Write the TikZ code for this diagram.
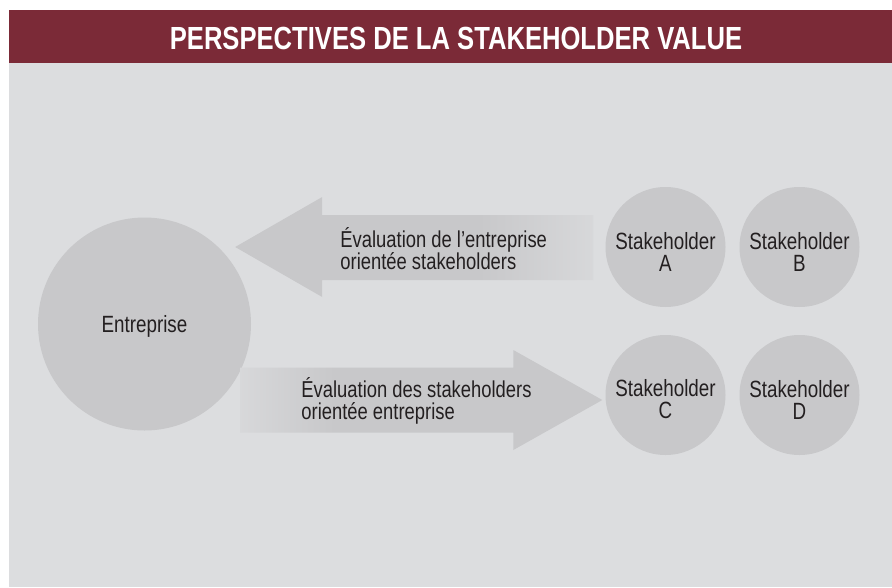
\documentclass[tikz,border=0pt]{standalone}
\usepackage{fontspec}
\setmainfont{Liberation Sans}[FakeStretch=0.8]
\usetikzlibrary{backgrounds,calc}

\definecolor{titlered}{HTML}{7B2A37}
\definecolor{panelgray}{HTML}{DCDDDF}
\definecolor{discgray}{HTML}{C8C8CA}
\definecolor{inkgray}{HTML}{231F20}
\colorlet{fadegray}{panelgray!75!discgray}
% shadings for the two big arrows (the path box is 25bp--75bp)
\pgfdeclarehorizontalshading{fadeeast}{100bp}{color(0bp)=(discgray); color(59bp)=(discgray); color(75bp)=(fadegray); color(100bp)=(fadegray)}
\pgfdeclarehorizontalshading{fadewest}{100bp}{color(0bp)=(fadegray); color(25bp)=(fadegray); color(38bp)=(discgray); color(100bp)=(discgray)}

\begin{document}
\begin{tikzpicture}[x=1pt,y=-1pt,inner sep=0pt]
    % `disc' is used for the entreprise and the stakeholders.
    % `caption' is used for the texts on the arrows.
    % `banner' is used for the title.
    \tikzstyle{disc} = [circle,fill=discgray,text=inkgray,align=center,font=\fontsize{23.5}{22}\selectfont]
    \tikzstyle{caption} = [text=inkgray,align=left,anchor=base west,font=\fontsize{23}{22}\selectfont]
    \tikzstyle{banner} = [text=white,anchor=base,font=\bfseries\fontsize{32}{32}\selectfont]
    %
    \useasboundingbox (0,0) rectangle (892,587);
    \node[banner] (title) at (456,49) {PERSPECTIVES DE LA STAKEHOLDER VALUE};
    %
    \node[disc,minimum size=213pt,text height=21pt] (entreprise) at (144.5,324) {Entreprise};
    \node[disc,minimum size=120pt,text height=48pt] (sA) at (665.5,247) {Stakeholder\\A};
    \node[disc,minimum size=120pt,text height=48pt] (sB) at (799.5,247) {Stakeholder\\B};
    \node[disc,minimum size=120pt,text height=48pt] (sC) at (665.5,395) {Stakeholder\\C};
    \node[disc,minimum size=120pt,text height=48pt] (sD) at (799.5,395) {Stakeholder\\D};
    %
    \coordinate (tipE) at ([xshift=-16pt]entreprise.east |- sA.west);
    \coordinate (endE) at ([xshift=-12pt]sA.west);
    \coordinate (tailS) at ([xshift=-11pt,yshift=-5pt]entreprise.east |- sC.west);
    \coordinate (tipS) at ([xshift=-3pt,yshift=-5pt]sC.west);
    % Arrow back to the entreprise.
    \shade[shading=fadeeast] (tipE) -- ($(tipE)+(87,-50)$) -- ($(tipE)+(87,-32)$)
      -- ($(endE)+(0,-32)$) -- ($(endE)+(0,33)$) -- ($(tipE)+(87,33)$)
      -- ($(tipE)+(87,50)$) -- cycle;
    % Arrow towards the stakeholders.
    \shade[shading=fadewest] ($(tailS)+(0,-32.5)$) -- ($(tipS)+(-89,-32.5)$)
      -- ($(tipS)+(-89,-50)$) -- (tipS) -- ($(tipS)+(-89,50)$)
      -- ($(tipS)+(-89,32.5)$) -- ($(tailS)+(0,32.5)$) -- cycle;
    \node[caption] (evalE) at ([xshift=105pt,yshift=-22pt]tipE) {Évaluation de l’entreprise\\orientée stakeholders};
    \node[caption] (evalS) at ([xshift=61pt,yshift=-19pt]tailS) {Évaluation des stakeholders\\orientée entreprise};
    %
    \begin{pgfonlayer}{background}
        % Draw title bar and panel.
        \fill[panelgray] (9,63) rectangle (892,587);
        \fill[titlered] (9,10) rectangle (892,63);
    \end{pgfonlayer}
\end{tikzpicture}
\end{document}
